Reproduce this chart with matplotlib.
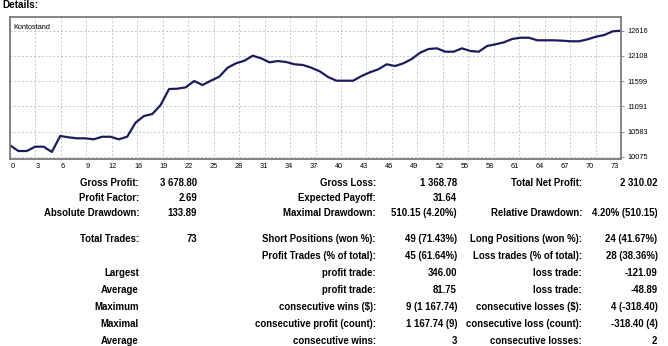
import numpy as np
import matplotlib
matplotlib.use("Agg")
import matplotlib.pyplot as plt

# balance after each closed trade (trade 0 = deposit)
balance = [
    10306, 10190, 10190, 10277, 10277, 10172, 10493, 10466, 10446, 10446,
    10426, 10478, 10478, 10426, 10478, 10761, 10896, 10936, 11118, 11440,
    11447, 11475, 11602, 11521, 11608, 11689, 11870, 11959, 12011, 12112,
    12060, 11979, 12005, 11985, 11939, 11925, 11870, 11798, 11683, 11608,
    11608, 11608, 11703, 11777, 11838, 11939, 11904, 11959, 12046, 12173,
    12247, 12261, 12193, 12193, 12261, 12207, 12193, 12308, 12342, 12382,
    12449, 12475, 12475, 12423, 12423, 12423, 12415, 12403, 12403, 12443,
    12495, 12530, 12604, 12616,
]
x_labels = ["0", "3", "6", "9", "12", "16", "19", "22", "25", "28", "31", "34",
            "37", "40", "43", "46", "49", "52", "55", "58", "61", "64", "67",
            "70", "73"]
y_ticks = [10075, 10583, 11091, 11599, 12108, 12616]
y_labels = ["10075", "10583", "11091", "11599", "12108", "12616"]

# report table, three label/value column pairs
col1_labels = ["Gross Profit:", "Profit Factor:", "Absolute Drawdown:", "Total Trades:", "",
               "Largest", "Average", "Maximum", "Maximal", "Average"]
col1_values = ["3 678.80", "2.69", "133.89", "73", "", "", "", "", "", ""]
col2_labels = ["Gross Loss:", "Expected Payoff:", "Maximal Drawdown:", "Short Positions (won %):",
               "Profit Trades (% of total):", "profit trade:", "profit trade:",
               "consecutive wins ($):", "consecutive profit (count):", "consecutive wins:"]
col2_values = ["1 368.78", "31.64", "510.15 (4.20%)", "49 (71.43%)", "45 (61.64%)",
               "346.00", "81.75", "9 (1 167.74)", "1 167.74 (9)", "3"]
col3_labels = ["Total Net Profit:", "", "Relative Drawdown:", "Long Positions (won %):",
               "Loss trades (% of total):", "loss trade:", "loss trade:",
               "consecutive losses ($):", "consecutive loss (count):", "consecutive losses:"]
col3_values = ["2 310.02", "", "4.20% (510.15)", "24 (41.67%)", "28 (38.36%)",
               "-121.09", "-48.89", "4 (-318.40)", "-318.40 (4)", "2"]

W, H = 668, 346
plt.rcParams["font.family"] = ["Liberation Sans", "DejaVu Sans"]

fig = plt.figure(figsize=(W / 100, H / 100), dpi=100)
fig.patch.set_facecolor("white")


def px(x, y):
    return x / W, 1 - y / H


fig.text(*px(2, 5), "Details:", fontsize=7.2, fontweight="bold", va="center", ha="left")

ax = fig.add_axes([10 / W, 1 - 159 / H, 611 / W, 142 / H])
n = len(balance) - 1
ax.plot(np.arange(len(balance)), balance, color="#1c1c5c", lw=1.6, solid_joinstyle="round")
ax.set_xlim(0, n)
ax.set_ylim(10029, 12893)

# grid on evenly split positions, labels slightly off like the terminal does
grid_x = np.arange(len(x_labels)) * n / (len(x_labels) - 1)
ax.set_xticks(grid_x, minor=True)
ax.set_xticks(np.arange(len(x_labels)) * 3 + 0.3)
ax.set_xticklabels(x_labels, fontsize=5.3)
ax.tick_params(axis="x", which="both", length=0, pad=3)
ax.grid(False)
ax.xaxis.grid(True, which="minor", color="#c8c8c8", ls=(0, (2, 2)), lw=0.7)

ax.yaxis.tick_right()
ax.set_yticks(y_ticks)
ax.set_yticklabels(y_labels, fontsize=5.3)
ax.tick_params(axis="y", length=2.5, width=0.6, color="#808080", pad=2)
ax.yaxis.grid(True, color="#c8c8c8", ls=(0, (2, 2)), lw=0.7)
ax.set_axisbelow(True)
for s in ax.spines.values():
    s.set_color("#7a7a7a")
    s.set_linewidth(1.3)

ax.text(0.005, 0.95, "Kontostand", transform=ax.transAxes, fontsize=5.3, va="top", ha="left")

row_y = [183, 198.5, 213.5, 239, 256, 273, 290, 307, 324, 340.5]
col_x = [139, 197, 376, 457, 582, 657.5]
columns = [col1_labels, col1_values, col2_labels, col2_values, col3_labels, col3_values]
for cx, col in zip(col_x, columns):
    for ry, txt in zip(row_y, col):
        if txt:
            fig.text(*px(cx, ry), txt, fontsize=6.9, fontweight="bold",
                     ha="right", va="center", color="black")

fig.savefig("out.png", dpi=100)
